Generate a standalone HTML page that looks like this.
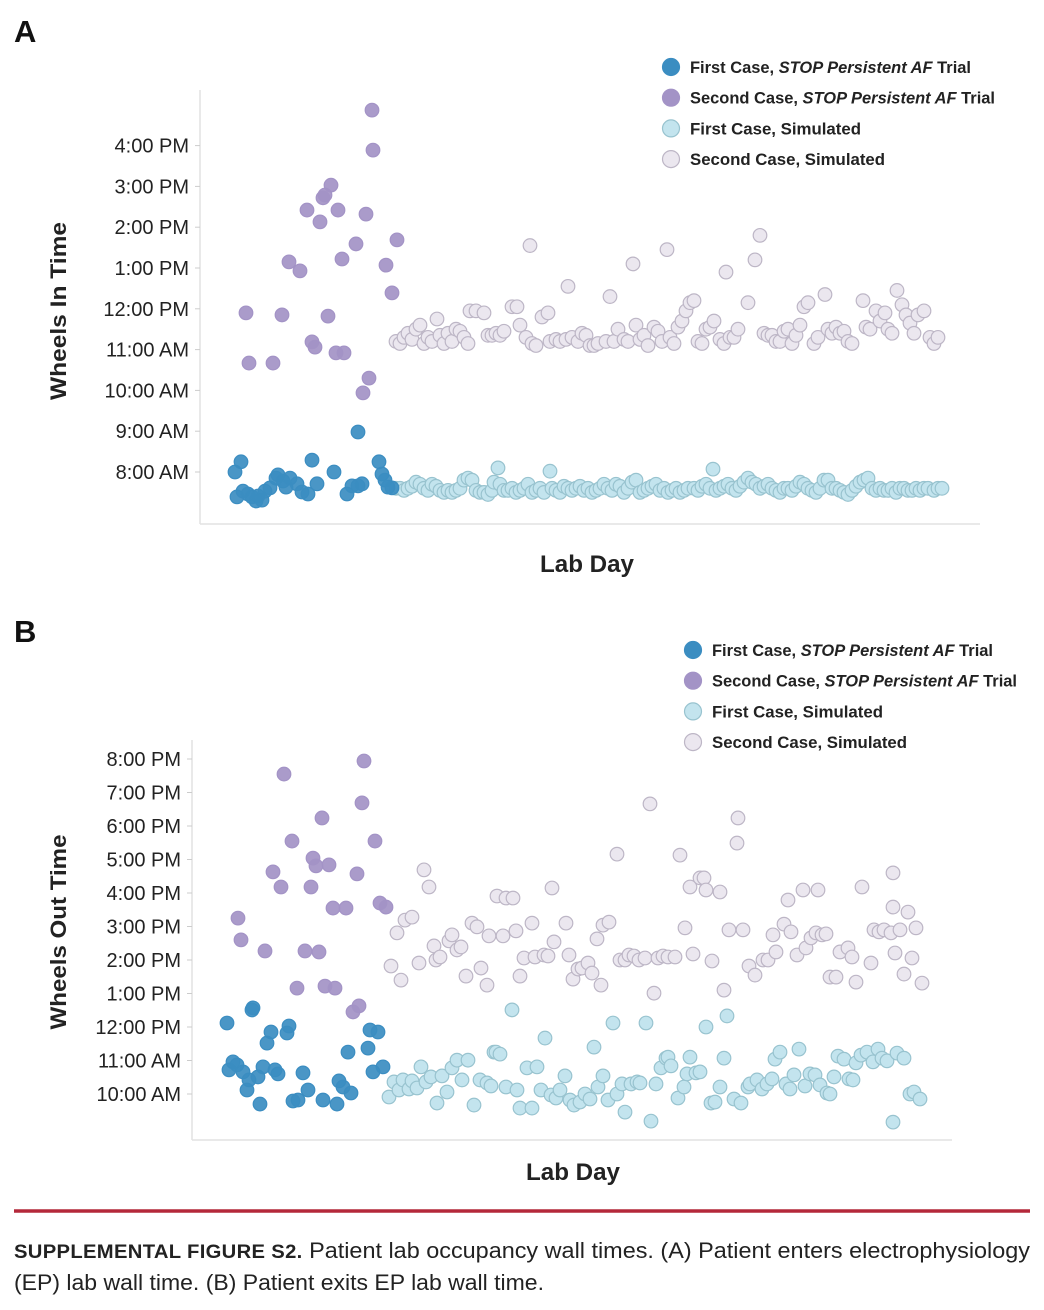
<!DOCTYPE html>
<html><head><meta charset="utf-8"><style>
body{margin:0;background:#fff;width:1044px;height:1310px;overflow:hidden;font-family:"Liberation Sans",sans-serif;color:#222}
svg{position:absolute;left:0;top:0}
</style></head><body>
<svg id="fig" width="1044" height="1310"></svg>
<script>
// Panel A data (day, hours-of-day)
const aTrial1Days=[1.75,1.25,2.75,3.25,4.5,5.5,6.5,7,8,8.75,10,11.5,12,13.25,14,15,16.75,18,19.5,20.5,21.75,26,29.25,30.5,32,33,32,37.25,38,38.75,39.5,40.5];
const aTrial1Vals=[7.39,8.0,8.25,7.53,7.46,7.39,7.29,7.41,7.31,7.53,7.61,7.85,7.93,7.78,7.63,7.85,7.71,7.51,7.46,8.29,7.71,8.0,7.46,7.66,7.66,7.71,8.98,8.25,7.95,7.80,7.63,7.61];
const aTrial2Days=[4,4.75,10.75,13,14.75,17.5,19.25,20.5,21.25,22.5,23.25,23.75,25.25,24.5,26.5,28.5,27,28,31.5,34,35.75,35.5,39,40.5,41.75,34.75,33.25];
const aTrial2Vals=[11.9,10.67,10.67,11.85,13.15,12.93,14.42,11.19,11.06,14.13,14.72,14.79,15.03,11.82,10.92,10.92,14.42,13.22,13.59,14.32,15.89,16.87,13.07,12.39,13.69,10.3,9.94];
const aSim2Days=[41.5,42.5,43.5,44.5,45.5,46.5,47.5,48.5,49.5,50.5,51.75,52.5,53.5,54.5,55.5,56.5,57.5,58.5,59.5,60,61.5,63.5,64.5,65.5,66.5,67.5,68.5,70.5,71.75,72.5,74,75,75.5,76.5,78,79.5,80,81.5,82.5,84.5,84,85.5,87,88,89,90,91,92,95,94,96,97,98.5,99.5,100.75,101.5,102.5,103.5,104.5,106,107,108,109.25,110,111,112,113,114,115,116,117,118,119,120,121,122.5,123.5,124,125,126,127,129.5,131.25,132.5,133.5,134.5,135.5,136.5,137.5,138.5,139.5,140.5,141.5,142.5,143.5,144.5,146,147,148.75,149.5,150.5,151.5,152.5,153.5,154.5,155.5,158.25,159,160,161.5,162.5,163.75,164.5,165.5,166.75,168,169,170,171,172,173.5,175,176,177];
const aSim2Vals=[11.2,11.15,11.3,11.4,11.25,11.5,11.6,11.15,11.3,11.2,11.75,11.35,11.15,11.4,11.2,11.5,11.45,11.3,11.15,11.95,11.95,11.9,11.35,11.35,11.4,11.35,11.45,12.05,12.05,11.6,11.3,13.55,11.15,11.1,11.8,11.9,11.2,11.25,11.2,12.55,11.25,11.3,11.2,11.4,11.35,11.1,11.1,11.15,12.3,11.2,11.2,11.5,11.25,11.2,13.1,11.6,11.25,11.35,11.1,11.55,11.45,11.2,13.45,11.3,11.15,11.55,11.7,11.95,12.15,12.2,11.2,11.15,11.5,11.55,11.7,11.25,11.15,12.9,11.3,11.3,11.5,12.15,13.2,13.8,11.4,11.35,11.35,11.2,11.2,11.45,11.5,11.15,11.35,11.6,12.05,12.15,11.15,11.3,12.35,11.5,11.4,11.55,11.4,11.45,11.2,11.15,12.2,11.55,11.5,11.95,11.7,11.9,11.5,11.4,12.45,12.1,11.85,11.65,11.4,11.85,11.95,11.3,11.15,11.3];
const aSim1Days=[41.5,42.5,43.5,44.5,45.5,46.5,47.5,48.5,49.5,50.5,51.5,52.5,53.5,54.5,55.5,56.5,57.5,58.5,59.5,60.5,61.5,62.5,63.5,64.5,65.5,66,67,67.5,68.5,69.5,70.5,71.5,72.5,73.5,74.5,75.5,76.5,77.5,78.5,80,80.5,81.5,82.5,83.5,84.5,85.5,86.5,87.5,88.5,89.5,90.5,91.5,92.5,93.5,94.5,95.5,96.5,97.5,98.5,99.5,100.5,101.5,102.5,103.5,104.5,105.5,106.5,107.5,108.5,109.5,110.5,111.5,112.5,113.5,114.5,116,120.75,117,118,119,120,121.5,122.5,123.5,124.5,125.5,126.5,127.5,128.5,129.5,130.5,131.5,132.5,133.5,134.5,135.5,136.5,137.5,138.5,139.5,140.5,141.5,142.5,143.5,144.5,145.5,146.5,147.5,148.5,149.5,150.5,151.5,152.5,153.5,154.5,155.5,156.5,157.5,158.5,159.5,160.5,161.5,162.5,163.5,164.5,165.5,166.5,167.5,168.5,169.5,170.5,171.5,172.5,173.5,174.5,176,177,178];
const aSim1Vals=[7.6,7.6,7.55,7.6,7.65,7.75,7.7,7.6,7.55,7.7,7.65,7.55,7.5,7.55,7.5,7.55,7.6,7.8,7.85,7.8,7.55,7.5,7.5,7.45,7.55,7.75,8.1,7.7,7.55,7.55,7.6,7.5,7.55,7.6,7.7,7.5,7.55,7.6,7.5,8.02,7.6,7.55,7.5,7.65,7.6,7.55,7.6,7.65,7.55,7.6,7.5,7.55,7.6,7.7,7.6,7.55,7.7,7.65,7.5,7.6,7.75,7.8,7.5,7.55,7.6,7.65,7.7,7.55,7.6,7.5,7.55,7.6,7.5,7.55,7.6,7.6,8.07,7.55,7.65,7.7,7.6,7.55,7.6,7.65,7.7,7.6,7.55,7.65,7.75,7.85,7.75,7.7,7.6,7.65,7.7,7.6,7.55,7.5,7.6,7.6,7.55,7.65,7.75,7.7,7.6,7.55,7.5,7.6,7.8,7.8,7.6,7.6,7.55,7.5,7.45,7.55,7.65,7.75,7.8,7.85,7.6,7.55,7.6,7.55,7.55,7.6,7.5,7.6,7.6,7.55,7.55,7.6,7.55,7.6,7.6,7.55,7.6,7.6];
// Panel B data
const bTrial1Days=[0.5,6.75,7,2,1,3,4.5,6,5.5,8.25,9.5,11.5,10.5,15.5,16,12.5,13.25,8.75,19.5,20.75,18.25,17,24.5,28,28.5,29.5,31.5,30.75,35.75,36.25,38.25,37,39.5];
const bTrial1Vals=[12.12,12.51,12.57,10.96,10.72,10.87,10.66,10.42,10.12,10.51,10.81,11.85,11.52,11.82,12.03,10.72,10.6,9.7,10.63,10.12,9.82,9.79,9.82,9.7,10.39,10.21,10.03,11.25,11.37,11.91,11.85,10.66,10.81];
const bTrial2Days=[34.75,14.75,34.25,24.25,16.75,37.5,22,22.75,26,12,33,14,21.5,27,30.25,38.75,40.25,3.25,4,10,20,23.5,18,25,27.5,32,33.5];
const bTrial2Vals=[19.94,19.55,18.69,18.24,17.55,17.55,17.04,16.81,16.84,16.63,16.57,16.18,16.18,15.55,15.55,15.7,15.58,15.25,14.6,14.27,14.27,14.24,13.16,13.22,13.16,12.45,12.63];
const bSim2Days=[41.5,43,44,45,46.75,48.5,49.75,51,52.25,52.75,53.75,56,56.75,58,59,60.25,61.75,63,64,65.5,66,68,69.5,70.25,72,72.75,73.75,74.75,76.75,77.5,79.75,80.75,81.75,82.25,85.25,86,87,88.25,89.25,90.75,91.75,93,94,94.5,96,98,98.75,100,101,102.25,103.5,105,106.25,107.25,108.25,109.5,110.75,112.5,113.75,115,116.25,117,118.75,119.75,120.25,121.75,123.75,124.75,126,128,128.25,129.5,131,132.5,134.5,135.75,137,137.75,139.75,140.75,141.5,143,144.5,145.25,146.5,147.75,148.25,149.25,150.25,151.25,152.75,153.75,155.75,156.75,157.75,159.25,161.5,162.25,163.5,164.75,166.5,167,167,167.5,168.75,169.75,170.75,171.75,172.75,174.25];
const bSim2Vals=[13.82,14.81,13.4,15.19,15.28,13.91,16.69,16.18,14.42,14.0,14.09,14.57,14.75,14.3,14.39,13.52,15.1,14.99,13.76,13.25,14.72,15.91,14.72,15.85,15.85,14.87,13.52,14.06,15.1,14.09,14.15,14.12,16.15,14.54,15.1,14.15,13.43,13.73,13.76,13.91,13.61,14.63,13.25,15.04,15.13,17.16,14.0,14.0,14.15,14.12,14.0,14.06,18.66,13.01,14.06,14.12,14.09,14.09,17.13,14.96,16.18,14.18,16.45,16.45,16.09,13.97,16.03,13.1,14.9,17.49,18.24,14.9,13.82,13.55,14.0,14.0,14.75,14.24,15.07,15.79,14.84,14.15,16.09,14.36,14.66,14.81,16.09,14.75,14.78,13.49,13.49,14.24,14.36,14.09,13.34,16.18,13.91,14.9,14.84,14.9,14.81,16.6,15.58,14.21,14.9,13.58,15.43,14.06,14.96,13.31];
const bSim1Days=[41,42.25,43.5,44.5,46,46.75,48,49,50.25,51.5,53,54.25,55.5,56.75,58,59.25,60.75,62.25,63.75,65.5,66.5,67.25,67.75,68.75,70.25,71.75,73,73.75,75.5,76.75,78,79,80,81.5,82.75,83.75,85,86.25,87.25,88.75,90,91.25,92.25,93.25,94.5,95.75,97,98,99.25,100,101.5,103,103.75,105.25,106.5,107.75,109,110.25,110.75,111.5,113.25,114.75,115.5,116.25,117.75,118.75,120.25,121.5,122.5,123.75,124.75,125.5,127.25,129,130.75,131.25,133,134.25,135.5,136.75,137.5,138.75,140.25,141.25,142.25,143.5,145,146.25,147.5,148.75,150.5,151.25,152.25,153.25,154.75,156,157,157.75,159,160.5,162,163.25,164.25,165.5,167,168,169.75,171.25,172.25,173.75];
const bSim1Vals=[9.91,10.36,10.12,10.42,10.15,10.39,10.18,10.81,10.36,10.51,9.73,10.54,10.06,10.78,11.01,10.42,11.01,9.67,10.42,10.33,10.24,11.25,11.25,11.19,10.21,12.51,10.12,9.58,10.78,9.58,10.81,10.12,11.67,9.97,9.88,10.12,10.54,9.82,9.67,9.76,10.0,9.85,11.4,10.21,10.54,9.82,12.12,10.0,10.3,9.46,10.3,10.36,10.33,12.12,9.19,10.3,10.78,11.07,11.1,10.84,9.88,10.21,10.6,11.1,10.63,10.66,12.0,9.73,9.76,10.21,11.07,12.33,9.85,9.73,10.21,10.3,10.42,10.15,10.3,10.45,11.04,11.25,10.3,10.15,10.57,11.34,10.24,10.6,10.57,10.27,10.03,10.0,10.51,11.13,11.04,10.45,10.42,10.93,11.16,11.25,10.96,11.34,11.07,10.99,9.16,11.22,11.07,10.0,10.06,9.85];
const aTicks=["4:00 PM","3:00 PM","2:00 PM","1:00 PM","12:00 PM","11:00 AM","10:00 AM","9:00 AM","8:00 AM"];
const aTickVals=[16,15,14,13,12,11,10,9,8];
const bTicks=["8:00 PM","7:00 PM","6:00 PM","5:00 PM","4:00 PM","3:00 PM","2:00 PM","1:00 PM","12:00 PM","11:00 AM","10:00 AM"];
const bTickVals=[20,19,18,17,16,15,14,13,12,11,10];
const legendLabels=[["First Case, ","STOP Persistent AF"," Trial"],["Second Case, ","STOP Persistent AF"," Trial"],["First Case, Simulated","",""],["Second Case, Simulated","",""]];
const legendWidths=[281,305,171,195];

const NS="http://www.w3.org/2000/svg";
const svg=document.getElementById('fig');
function mk(tag,attrs,parent){const e=document.createElementNS(NS,tag);for(const k in attrs)e.setAttribute(k,attrs[k]);(parent||svg).appendChild(e);return e;}
const styles=[{fill:"#3b8dc1",stroke:"#3b8dc1",op:0.92},{fill:"#a393c6",stroke:"#a393c6",op:0.92},{fill:"#c3e4ee",stroke:"#98c3cf",op:1},{fill:"#ebe7ef",stroke:"#bdb6c6",op:1}];

function panel(cfg){
  const g=mk('g',{});
  
  
  const xs=d=>cfg.x0+d*cfg.xk;
  const ys=h=>cfg.y0-(h-cfg.h0)*cfg.yk;
  const ax=mk('line',{x1:cfg.left,y1:cfg.top,x2:cfg.left,y2:cfg.bottom,stroke:"#e2e2e2","stroke-width":1.5},g);
  
  const bx=mk('line',{x1:cfg.left,y1:cfg.bottom,x2:cfg.right,y2:cfg.bottom,stroke:"#e2e2e2","stroke-width":1.5},g);
  
  cfg.tickVals.forEach((v,i)=>{
    const y=ys(v);
    const tk=mk('line',{x1:cfg.left-5,y1:y,x2:cfg.left,y2:y,stroke:"#ccc"},g);
    
    const t=mk('text',{x:cfg.left-11,y:y+7,"text-anchor":"end","font-size":20,fill:"#222"},g);
    t.textContent=cfg.ticks[i];
    
  });
  const yt=mk('text',{x:0,y:0,transform:`translate(${cfg.ytx},${cfg.yty}) rotate(-90)`,"text-anchor":"middle","font-size":22,"font-weight":"bold",fill:"#222",textLength:cfg.ytLen,lengthAdjust:"spacingAndGlyphs"},g);
  yt.textContent=cfg.ytitle;
  const xt=mk('text',{x:cfg.xtx,y:cfg.xty,"text-anchor":"middle","font-size":24,"font-weight":"bold",fill:"#222",textLength:94,lengthAdjust:"spacingAndGlyphs"},g);
  xt.textContent="Lab Day";
  const lbl=mk('text',{x:14,y:cfg.lblY,"font-size":31,"font-weight":"bold",fill:"#111"},g);
  lbl.textContent=cfg.letter;
  const order=[3,2,1,0];
  order.forEach(si=>{
    const [days,vals]=cfg.series[si];const st=styles[si];
    const n=Math.min(days.length,vals.length);
    for(let i=0;i<n;i++){
      const c=mk('circle',{cx:xs(days[i]),cy:ys(vals[i]),r:6.8,fill:st.fill,stroke:st.stroke,"stroke-width":1.2,"fill-opacity":st.op},g);
      
      
    }
  });
  legendLabels.forEach((parts,i)=>{
    const st=styles[i];const y=cfg.legY+i*30.7;
    const lg=mk('g',{},g);
    
    mk('circle',{cx:cfg.legX,cy:y,r:8.5,fill:st.fill,stroke:st.stroke,"stroke-width":1.2},lg);
    const t=mk('text',{x:cfg.legX+19,y:y+6,"font-size":17,"font-weight":"bold",fill:"#222",textLength:legendWidths[i],lengthAdjust:"spacingAndGlyphs"},lg);
    const a=mk('tspan',{},t);a.textContent=parts[0];
    if(parts[1]){const b=mk('tspan',{"font-style":"italic"},t);b.textContent=parts[1];const c=mk('tspan',{},t);c.textContent=parts[2];}
  });
}
panel({name:'panel-a',letter:'A',lblY:42,left:200,right:980,top:90,bottom:524,x0:230,xk:4,y0:472,h0:8,yk:40.8,
  tickVals:aTickVals,ticks:aTicks,ytitle:"Wheels In Time",ytLen:178,ytx:66,yty:311,xtx:587,xty:572,legX:671,legY:67,
  series:[[aTrial1Days,aTrial1Vals],[aTrial2Days,aTrial2Vals],[aSim1Days,aSim1Vals],[aSim2Days,aSim2Vals]]});
panel({name:'panel-b',letter:'B',lblY:642,left:192,right:952,top:740,bottom:1140,x0:225,xk:4,y0:1094,h0:10,yk:33.5,
  tickVals:bTickVals,ticks:bTicks,ytitle:"Wheels Out Time",ytLen:195,ytx:66,yty:932,xtx:573,xty:1180,legX:693,legY:650,
  series:[[bTrial1Days,bTrial1Vals],[bTrial2Days,bTrial2Vals],[bSim1Days,bSim1Vals],[bSim2Days,bSim2Vals]]});
const rl=mk('line',{x1:14,y1:1211,x2:1030,y2:1211,stroke:"#b4283a","stroke-width":3.5});

const c1=mk('text',{x:14,y:1258,"font-size":22,fill:"#222",textLength:1016,lengthAdjust:"spacingAndGlyphs"});

const s1=mk('tspan',{"font-weight":"bold","font-size":19,"letter-spacing":"0.3"},c1);s1.textContent="SUPPLEMENTAL FIGURE S2.";
const s2=mk('tspan',{},c1);s2.textContent=" Patient lab occupancy wall times. (A) Patient enters electrophysiology";
const c2=mk('text',{x:14,y:1290,"font-size":22,fill:"#222",textLength:530,lengthAdjust:"spacingAndGlyphs"});
c2.textContent="(EP) lab wall time. (B) Patient exits EP lab wall time.";

</script>
</body></html>
